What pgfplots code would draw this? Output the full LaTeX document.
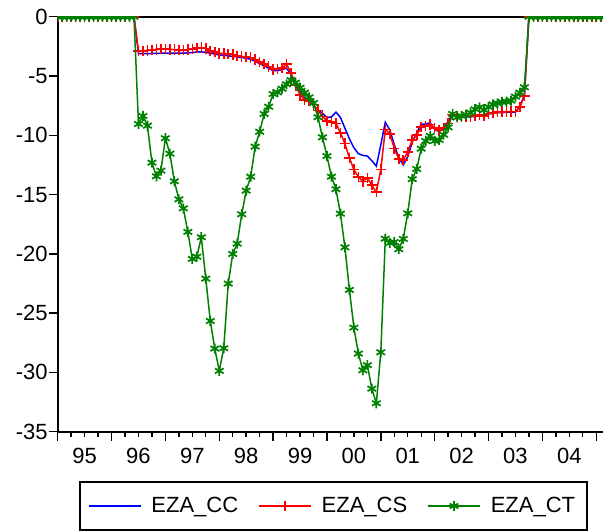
\documentclass[border=0pt]{standalone}
\usepackage{fontspec}
\setmainfont{Liberation Sans}
\usepackage{pgfplots}
\pgfplotsset{compat=1.18}
\usepackage{pgfplotstable}
\pgfplotstableread{
t cc cs ct
0 0 0 0
1 0 0 0
2 0 0 0
3 0 0 0
4 0 0 0
5 0 0 0
6 0 0 0
7 0 0 0
8 0 0 0
9 0 0 0
10 0 0 0
11 0 0 0
12 0 0 0
13 0 0 0
14 0 0 0
15 0 0 0
16 0 0 0
17 0 0 0
18 -3.10 -2.89 -9.05
19 -3.12 -2.89 -8.37
20 -3.12 -2.84 -9.19
21 -3.10 -2.81 -12.31
22 -3.10 -2.75 -13.46
23 -3.08 -2.73 -12.98
24 -3.07 -2.73 -10.25
25 -3.07 -2.75 -11.55
26 -3.08 -2.78 -13.88
27 -3.08 -2.81 -15.40
28 -3.07 -2.81 -16.16
29 -3.05 -2.78 -18.15
30 -3.02 -2.73 -20.43
31 -2.98 -2.64 -20.24
32 -2.97 -2.61 -18.60
33 -3.00 -2.67 -22.09
34 -3.08 -2.87 -25.66
35 -3.15 -3.00 -27.99
36 -3.22 -3.09 -29.87
37 -3.25 -3.10 -27.96
38 -3.30 -3.15 -22.51
39 -3.35 -3.20 -20.01
40 -3.40 -3.30 -19.14
41 -3.45 -3.35 -16.66
42 -3.50 -3.40 -14.67
43 -3.60 -3.45 -13.49
44 -3.75 -3.60 -10.96
45 -3.95 -3.80 -9.70
46 -4.15 -4.00 -8.20
47 -4.35 -4.20 -7.59
48 -4.55 -4.45 -6.52
49 -4.55 -4.40 -6.38
50 -4.45 -4.35 -6.07
51 -4.35 -4.00 -5.70
52 -4.85 -4.75 -5.34
53 -5.60 -5.80 -5.56
54 -6.30 -6.60 -5.99
55 -6.80 -7.00 -6.41
56 -7.10 -7.10 -6.80
57 -7.50 -7.40 -7.28
58 -7.85 -7.90 -8.48
59 -8.15 -8.40 -10.17
60 -8.50 -8.80 -11.75
61 -8.45 -8.90 -13.49
62 -8.05 -9.00 -14.55
63 -8.50 -9.80 -16.61
64 -9.40 -10.70 -19.45
65 -10.30 -11.90 -23.04
66 -11.05 -12.90 -26.22
67 -11.55 -13.50 -28.41
68 -11.70 -13.90 -29.82
69 -11.75 -13.60 -29.39
70 -12.15 -14.20 -31.37
71 -12.60 -14.80 -32.60
72 -10.80 -12.90 -28.30
73 -8.90 -9.50 -18.72
74 -9.55 -9.90 -19.08
75 -10.80 -11.10 -19.00
76 -11.90 -12.00 -19.61
77 -12.50 -12.10 -18.74
78 -11.80 -11.40 -16.58
79 -10.60 -10.40 -13.70
80 -9.80 -10.00 -12.84
81 -9.05 -9.30 -11.13
82 -9.05 -9.20 -10.48
83 -8.95 -9.10 -10.06
84 -9.50 -9.40 -10.48
85 -9.70 -9.60 -10.40
86 -9.30 -9.40 -9.95
87 -8.85 -9.00 -9.33
88 -8.15 -8.25 -8.20
89 -8.40 -8.35 -8.50
90 -8.45 -8.40 -8.37
91 -8.45 -8.40 -8.26
92 -8.45 -8.40 -8.10
93 -8.40 -8.35 -7.80
94 -8.35 -8.30 -7.64
95 -8.40 -8.35 -7.87
96 -8.20 -8.15 -7.60
97 -8.15 -8.10 -7.40
98 -8.10 -8.05 -7.30
99 -8.10 -8.05 -7.19
100 -8.05 -8.00 -7.17
101 -8.05 -8.00 -7.08
102 -8.05 -8.00 -6.74
103 -7.55 -7.60 -6.40
104 -6.60 -6.70 -5.95
105 0 0 0
106 0 0 0
107 0 0 0
108 0 0 0
109 0 0 0
110 0 0 0
111 0 0 0
112 0 0 0
113 0 0 0
114 0 0 0
115 0 0 0
116 0 0 0
117 0 0 0
118 0 0 0
119 0 0 0
120 0 0 0
121 0 0 0
122 0 0 0
}\datatable

\begin{document}
\begin{tikzpicture}[x=1pt,y=1pt]
\useasboundingbox (0,0) rectangle (301.5,265.5);
\begin{axis}[
  at={(28.85pt,49.65pt)}, anchor=south west,
  scale only axis, width=274.15pt, height=207.5pt,
  xmin=0, xmax=122.18, ymin=-35, ymax=0,
  axis line style={line width=1pt},
  tick align=outside, tick pos=left,
  major tick length=4.5pt, minor tick length=2.5pt,
  every tick/.style={black, line width=0.7pt},
  xtick={0,12,...,120}, xticklabels={},
  minor x tick num=3,
  extra x ticks={6,18,...,114},
  extra x tick labels={95,96,97,98,99,00,01,02,03,04},
  extra x tick style={major tick length=0pt, tick label style={yshift=-4.5pt}},
  ytick={-35,-30,...,0},
  yticklabels={-35,-30,-25,-20,-15,-10,-5,0},
  yticklabel style={xshift=3pt},
  tick label style={font=\fontsize{11}{13}\selectfont},
  clip marker paths=true,
  legend columns=3,
  legend image code/.code={\draw[mark repeat=2,mark phase=2] plot coordinates {(0pt,0pt)(13pt,0pt)(26pt,0pt)};},
  legend style={at={(0.503,-0.179)}, anchor=center, draw=black, line width=0.75pt,
    font=\fontsize{11}{13}\selectfont, inner xsep=4pt, inner ysep=5.3pt,
    /tikz/every even column/.append style={column sep=8pt},
    /tikz/every odd column/.append style={column sep=3pt}},
]
\addplot[blue, line width=0.75pt] table[x=t,y=cc] {\datatable};
\addlegendentry{EZA\_CC}
\addplot[red, line width=0.75pt, mark=+, mark size=2.6pt, mark options={line width=0.8pt}] table[x=t,y=cs] {\datatable};
\addlegendentry{EZA\_CS}
\addplot[green!50!black, line width=0.75pt, mark=asterisk, mark size=2.5pt, mark options={line width=0.85pt}] table[x=t,y=ct] {\datatable};
\addlegendentry{EZA\_CT}
\end{axis}
\end{tikzpicture}
\end{document}
